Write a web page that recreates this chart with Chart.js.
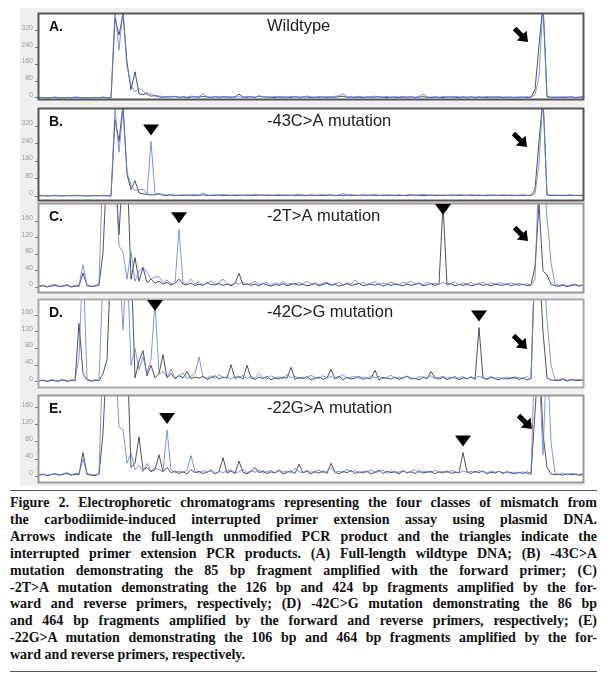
<!DOCTYPE html>
<html>
<head>
<meta charset="utf-8">
<script src="https://cdn.jsdelivr.net/npm/chart.js@4.4.1/dist/chart.umd.min.js"></script>
<style>
  body { margin: 0; width: 607px; height: 684px; background: #fff; position: relative; overflow: hidden; }
  .backdrop { position: absolute; left: 20px; top: 8px; width: 564px; height: 478px; background: #efefef; }
  canvas { position: absolute; left: 0; }
  .rule { position: absolute; left: 10px; width: 587px; height: 1px; background: #555; }
  .caption { position: absolute; left: 10px; top: 495px; width: 587px;
    font: bold 14px "Liberation Serif", serif; line-height: 16.9px; color: #111; }
  .caption div { text-align: justify; text-align-last: justify; }
  .caption div.last { text-align-last: left; }
</style>
</head>
<body>
<div class="backdrop"></div>
<canvas id="pA" width="586" height="89" style="top:12px"></canvas>
<canvas id="pB" width="586" height="95" style="top:107px"></canvas>
<canvas id="pC" width="586" height="92" style="top:202px"></canvas>
<canvas id="pD" width="586" height="91" style="top:298px"></canvas>
<canvas id="pE" width="586" height="90" style="top:394px"></canvas>
<div class="rule" style="top:490px"></div>
<div class="caption">
  <div>Figure 2. Electrophoretic chromatograms representing the four classes of mismatch from</div>
  <div>the carbodiimide-induced interrupted primer extension assay using plasmid DNA.</div>
  <div>Arrows indicate the full-length unmodified PCR product and the triangles indicate the</div>
  <div>interrupted primer extension PCR products. (A) Full-length wildtype DNA; (B) -43C&gt;A</div>
  <div>mutation demonstrating the 85 bp fragment amplified with the forward primer; (C)</div>
  <div>-2T&gt;A mutation demonstrating the 126 bp and 424 bp fragments amplified by the for-</div>
  <div>ward and reverse primers, respectively; (D) -42C&gt;G mutation demonstrating the 86 bp</div>
  <div>and 464 bp fragments amplified by the forward and reverse primers, respectively; (E)</div>
  <div>-22G&gt;A mutation demonstrating the 106 bp and 464 bp fragments amplified by the for-</div>
  <div class="last">ward and reverse primers, respectively.</div>
</div>
<div class="rule" style="top:671px"></div>
<script>
// fluorescence traces, one reading per scan position (137 positions)
const positions = Array.from({ length: 137 }, (_, i) => i);

// y tick labels
const ticksAB = [0, 80, 160, 240, 320];
const ticksCDE = [0, 40, 80, 120, 160];

const blueA = [
  2,3,1,2,4,2,1,3,2,4,
  3,2,1,2,3,2,4,2,1,420,
  230,420,150,60,30,45,35,12,20,8,
  10,6,4,8,5,3,6,4,9,5,
  7,20,6,4,8,5,3,7,5,4,
  6,3,8,5,4,9,6,3,5,7,
  4,6,3,8,5,4,6,9,5,3,
  7,4,6,5,8,10,20,6,4,5,
  8,5,3,6,9,4,5,7,3,6,
  5,8,4,6,3,7,18,5,4,6,
  3,7,5,4,8,5,6,3,5,4,
  6,4,7,3,5,6,4,5,3,4,
  5,3,6,4,15,100,450,6,4,5,
  3,6,4,5,3,4,6];
const darkA = [
  1,2,0,1,3,1,0,2,1,3,
  2,1,0,1,2,1,3,1,0,380,
  300,400,170,40,125,20,15,25,8,12,
  5,3,6,4,8,3,5,2,4,6,
  3,8,4,2,5,3,6,4,3,5,
  18,4,3,6,2,10,4,5,3,2,
  5,3,4,2,6,3,4,5,2,4,
  3,5,2,4,3,6,8,3,5,2,
  4,2,5,3,4,6,3,2,4,3,
  2,4,3,5,2,4,6,3,2,4,
  3,2,4,5,3,2,4,3,5,2,
  4,3,2,5,3,4,2,3,4,2,
  3,4,2,3,40,250,450,5,3,2,
  4,2,3,5,2,3,4];

const blueB = [
  2,3,1,2,4,2,1,3,2,4,
  3,2,1,2,3,2,4,2,1,400,
  200,400,110,50,25,30,30,10,250,8,
  12,6,5,8,4,3,6,4,5,7,
  4,15,5,3,6,4,7,5,3,6,
  5,3,6,4,8,5,3,6,4,5,
  7,4,5,3,6,9,5,4,6,3,
  5,7,4,6,3,5,12,4,6,5,
  3,6,4,5,8,4,3,6,5,4,
  6,3,5,7,4,6,8,5,3,6,
  4,5,3,6,4,7,5,3,6,4,
  5,3,6,4,5,3,6,4,5,3,
  4,6,3,5,10,150,450,6,4,5,
  3,5,4,6,3,4,5];
const darkB = [
  1,2,0,1,2,1,0,2,1,2,
  1,2,0,1,2,1,2,1,0,350,
  250,420,100,30,70,15,10,8,5,6,
  10,4,3,6,2,4,3,5,2,4,
  3,6,2,4,3,5,2,4,3,2,
  4,3,5,2,4,3,6,2,4,3,
  2,4,3,5,2,4,3,2,5,3,
  4,2,3,5,2,4,3,5,2,4,
  3,5,2,4,3,2,5,3,4,2,
  4,3,2,5,3,4,2,3,5,2,
  3,4,2,5,3,2,4,3,5,2,
  4,2,3,5,2,4,3,2,4,3,
  2,4,3,2,30,250,450,5,3,2,
  4,2,3,4,2,3,2];

const blueC = [
  3,6,2,5,8,3,4,7,2,5,
  5,55,6,3,5,10,300,250,300,300,
  100,85,20,86,15,40,48,38,20,25,
  26,12,18,8,10,140,12,9,20,8,
  14,6,10,16,7,12,20,9,6,11,
  8,13,6,10,15,7,9,12,5,11,
  8,14,7,10,6,12,9,15,8,11,
  6,10,13,7,9,12,6,11,8,18,
  9,12,7,10,14,6,11,8,13,9,
  7,12,10,15,8,11,6,13,9,10,
  7,12,8,10,14,6,11,9,12,7,
  10,13,6,11,8,12,9,7,11,8,
  10,6,9,5,20,300,300,170,60,8,
  5,7,4,6,8,5,6];
const darkC = [
  2,4,1,3,5,2,3,5,1,3,
  3,35,4,2,3,5,84,300,300,300,
  127,300,300,20,72,15,48,12,20,10,
  15,8,12,6,10,20,8,6,10,5,
  8,5,12,7,6,9,5,8,4,10,
  34,6,9,5,8,4,10,6,3,7,
  5,9,4,7,10,5,8,4,6,9,
  4,7,10,5,8,3,6,9,5,7,
  10,4,6,8,5,9,3,7,5,8,
  6,4,8,5,7,10,4,6,9,5,
  8,200,6,9,4,7,5,8,4,6,
  9,5,7,4,8,6,5,9,4,7,
  5,8,4,6,50,200,40,30,8,4,
  3,5,2,4,6,3,5];

const blueD = [
  3,5,2,6,4,3,7,2,5,4,
  60,300,8,3,5,4,250,300,300,300,
  300,125,300,40,80,30,60,20,55,190,
  20,25,12,30,10,15,22,8,14,20,
  60,12,9,15,8,18,10,12,7,14,
  10,16,8,13,9,20,11,7,15,10,
  12,8,18,10,14,7,12,9,16,11,
  8,15,10,13,7,12,18,9,11,14,
  9,12,7,15,10,13,8,11,16,9,
  12,8,14,10,7,13,11,9,15,8,
  11,14,9,12,8,10,13,7,12,9,
  14,10,8,13,9,11,7,12,10,8,
  11,9,13,7,300,300,300,150,40,6,
  5,8,4,7,5,6,4];
const darkD = [
  2,4,1,4,3,2,5,1,4,3,
  140,20,5,2,4,3,20,53,300,300,
  300,300,300,300,10,50,75,15,40,10,
  20,65,10,20,8,15,10,25,8,12,
  9,14,6,10,15,7,12,9,41,8,
  13,7,40,10,6,12,8,14,5,10,
  7,12,9,35,6,11,8,13,5,9,
  12,6,10,30,8,14,5,11,7,9,
  13,6,10,8,28,5,11,9,7,12,
  6,10,14,7,9,5,12,8,25,10,
  7,11,6,9,13,5,10,8,12,6,
  130,9,6,11,8,5,10,7,9,12,
  6,9,5,8,300,300,120,10,5,4,
  3,6,2,5,4,3,5];

const blueE = [
  3,5,2,4,6,3,5,8,3,6,
  5,40,6,4,3,5,300,300,300,300,
  115,110,30,55,15,25,10,30,12,20,
  15,10,108,15,8,12,9,14,48,10,
  7,13,9,15,6,11,8,12,14,7,
  10,16,8,12,9,14,7,11,13,8,
  15,9,12,7,18,10,8,13,9,11,
  14,7,12,20,9,11,8,16,10,13,
  7,12,9,15,8,11,14,6,12,10,
  9,13,7,11,15,8,10,12,7,14,
  9,11,8,13,10,7,12,9,11,8,
  13,10,7,12,9,11,8,10,6,9,
  7,10,5,8,300,250,50,300,80,6,
  4,7,3,6,5,4,6];
const darkE = [
  2,4,1,3,5,2,4,6,2,4,
  3,55,4,2,1,5,100,300,300,300,
  300,300,300,20,30,92,15,20,10,15,
  50,10,20,8,12,6,10,5,15,8,
  11,6,9,13,5,10,43,7,12,6,
  35,9,5,11,20,8,12,6,10,7,
  13,5,9,12,6,28,8,11,5,10,
  7,12,6,30,9,5,11,8,13,6,
  10,7,12,5,9,14,6,11,8,10,
  5,12,8,10,6,13,7,9,11,5,
  10,7,12,6,9,8,55,10,6,11,
  8,12,5,9,7,11,6,10,8,5,
  9,6,10,4,150,300,100,20,5,3,
  4,2,5,3,4,2,3];

// positions of the interrupted-extension products (triangles)
const marksB = [28];
const marksC = [35, 101];
const marksD = [29, 110];
const marksE = [32, 106];
const fullLength = 126;

const blueColor = 'rgba(92,124,226,0.8)';
const darkColor = 'rgba(50,50,72,0.85)';

// white plot area, then frame, panel letter, title, triangles and arrow
const panelDecor = {
  id: 'panelDecor',
  beforeDraw(chart) {
    const { ctx, chartArea: a } = chart;
    ctx.save();
    ctx.fillStyle = '#fff';
    ctx.fillRect(a.left, a.top, a.right - a.left, a.bottom - a.top);
    ctx.restore();
  },
  afterDraw(chart, args, opts) {
    const { ctx, chartArea: a, scales: { x, y } } = chart;
    ctx.save();
    ctx.strokeStyle = opts.border;
    ctx.lineWidth = 2;
    ctx.strokeRect(a.left - 0.5, a.top - 0.5, a.right - a.left + 1, a.bottom - a.top + 1);

    ctx.fillStyle = '#111';
    ctx.textBaseline = 'middle';
    ctx.font = 'bold 14px "Liberation Sans"';
    ctx.fillText(opts.label, a.left + 10, a.top + 13);
    ctx.fillStyle = '#222';
    ctx.font = '16.5px "Liberation Sans"';
    ctx.fillText(opts.title, 267, a.top + 12);

    ctx.fillStyle = '#000';
    opts.marks.forEach(i => {
      const px = x.getPixelForValue(i);
      const v = Math.max(...chart.data.datasets.map(d => d.data[i]));
      const tip = Math.max(a.top + 11, y.getPixelForValue(v) - 6);
      ctx.beginPath();
      ctx.moveTo(px - 8, tip - 11);
      ctx.lineTo(px + 8, tip - 11);
      ctx.lineTo(px, tip);
      ctx.closePath();
      ctx.fill();
    });

    const tx = x.getPixelForValue(fullLength) + opts.arrow.dx;
    const ty = a.top + opts.arrow.dy;
    ctx.translate(tx, ty);
    ctx.rotate(Math.PI / 4);
    ctx.beginPath();
    ctx.moveTo(0, 0);
    ctx.lineTo(-9, -7);
    ctx.lineTo(-9, -2.5);
    ctx.lineTo(-19, -2.5);
    ctx.lineTo(-19, 2.5);
    ctx.lineTo(-9, 2.5);
    ctx.lineTo(-9, 7);
    ctx.closePath();
    ctx.fill();
    ctx.restore();
  }
};

function makePanel(id, blue, dark, yMin, yMax, tickValues, decor) {
  new Chart(document.getElementById(id), {
    type: 'line',
    data: {
      labels: positions,
      datasets: [
        { data: blue, borderColor: blueColor, borderWidth: 1, pointRadius: 0, tension: 0 },
        { data: dark, borderColor: darkColor, borderWidth: 1, pointRadius: 0, tension: 0 }
      ]
    },
    options: {
      responsive: false,
      animation: false,
      events: [],
      layout: { padding: { top: 2, bottom: 2, right: 3, left: 0 } },
      plugins: { legend: { display: false }, tooltip: { enabled: false }, panelDecor: decor },
      scales: {
        x: { display: false },
        y: {
          min: yMin, max: yMax,
          border: { display: false },
          grid: { drawOnChartArea: false, tickLength: 4, color: '#777' },
          ticks: {
            labelOffset: -3, padding: 2,
            color: '#999', font: { size: 7, family: 'Liberation Sans' }
          },
          afterBuildTicks(s) { s.ticks = tickValues.map(v => ({ value: v })); },
          afterFit(s) { s.width = 39; s.paddingTop = 0; s.paddingBottom = 0; }
        }
      }
    },
    plugins: [panelDecor]
  });
}

makePanel('pA', blueA, darkA, -5, 401, ticksAB,
  { label: 'A.', title: 'Wildtype', marks: [], arrow: { dx: -15, dy: 28 }, border: '#555' });
makePanel('pB', blueB, darkB, -18, 398, ticksAB,
  { label: 'B.', title: '-43C>A mutation', marks: marksB, arrow: { dx: -16, dy: 38 }, border: '#555' });
makePanel('pC', blueC, darkC, -11, 201, ticksCDE,
  { label: 'C.', title: '-2T>A mutation', marks: marksC, arrow: { dx: -15, dy: 37 }, border: '#999' });
makePanel('pD', blueD, darkD, -12, 196, ticksCDE,
  { label: 'D.', title: '-42C>G mutation', marks: marksD, arrow: { dx: -16, dy: 49 }, border: '#aaa' });
makePanel('pE', blueE, darkE, -14, 188, ticksCDE,
  { label: 'E.', title: '-22G>A mutation', marks: marksE, arrow: { dx: -11, dy: 33 }, border: '#999' });
</script>
</body>
</html>
